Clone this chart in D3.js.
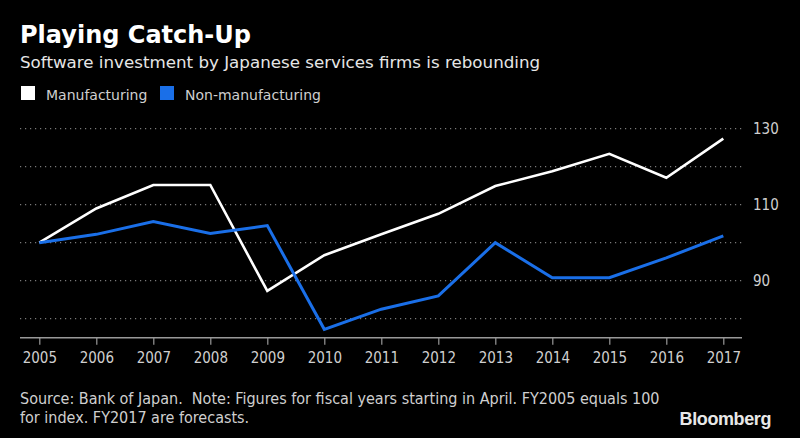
<!DOCTYPE html>
<html><head><meta charset="utf-8">
<script src="https://cdn.jsdelivr.net/npm/d3@7"></script>
<style>
html,body{margin:0;padding:0;background:#000;}
svg{display:block;}
</style></head>
<body>
<script>
const years = [2005,2006,2007,2008,2009,2010,2011,2012,2013,2014,2015,2016,2017];
const manufacturing = [100,109,115.2,115.2,87.3,96.7,102.2,107.6,114.9,118.8,123.4,117.1,127.4];
const nonManufacturing = [100,102.2,105.6,102.4,104.5,77.2,82.5,86,100,90.8,90.8,96,101.8];
const yTickValues = [90,110,130];
const gridValues = [80,90,100,110,120,130];

const W=800,H=438;
const svg=d3.select("body").append("svg").attr("width",W).attr("height",H);
svg.append("rect").attr("width",W).attr("height",H).attr("fill","#000");

const x=d3.scaleLinear().domain([2005,2017]).range([39.3,723.3]);
const y=d3.scaleLinear().domain([75,130]).range([337.7,128.7]);

const cond='"DejaVu Sans Condensed","DejaVu Sans",sans-serif';
const reg='"DejaVu Sans",sans-serif';

// title
svg.append("text").attr("x",20).attr("y",43).text("Playing Catch-Up")
  .attr("fill","#fff").attr("font-family",reg).attr("font-weight","bold").attr("font-size",24);
svg.append("text").attr("x",20).attr("y",68).text("Software investment by Japanese services firms is rebounding")
  .attr("fill","#e6e6e6").attr("font-family",reg).attr("font-size",16.7);

// legend
const legend=[{name:"Manufacturing",color:"#ffffff",x:21},{name:"Non-manufacturing",color:"#1a6fe8",x:160}];
legend.forEach(l=>{
  svg.append("rect").attr("x",l.x).attr("y",86).attr("width",14).attr("height",14).attr("fill",l.color);
  svg.append("text").attr("x",l.x+25).attr("y",100).text(l.name)
    .attr("fill","#cfcfcf").attr("font-family",reg).attr("font-size",14);
});

// grid
svg.append("g").selectAll("line").data(gridValues).join("line")
  .attr("x1",20).attr("x2",742).attr("y1",d=>y(d)).attr("y2",d=>y(d))
  .attr("stroke","#7a7a7a").attr("stroke-width",1.2).attr("stroke-dasharray","1.2,3.8");

// y labels
svg.append("g").selectAll("text").data(yTickValues).join("text")
  .attr("x",753).attr("y",d=>y(d)).attr("dy","0.36em").text(d=>d)
  .attr("fill","#cfcfcf").attr("font-family",cond).attr("font-size",15);

// x axis
const xAxis=d3.axisBottom(x).tickValues(years).tickFormat(d3.format("d")).tickSize(7).tickPadding(8);
const gx=svg.append("g").attr("transform",`translate(0,${y(75)})`).call(xAxis);
gx.select(".domain").remove();
gx.insert("line",":first-child").attr("x1",20).attr("x2",742).attr("stroke","#999").attr("stroke-width",1.5);
gx.selectAll(".tick line").attr("stroke","#999").attr("stroke-width",1.2);
gx.selectAll(".tick text").attr("fill","#cfcfcf").attr("font-family",cond).attr("font-size",15);

// lines
const line=d3.line().x((d,i)=>x(years[i])).y(d=>y(d));
svg.append("path").datum(manufacturing).attr("d",line).attr("fill","none")
  .attr("stroke","#ffffff").attr("stroke-width",2.6).attr("stroke-linejoin","miter");
svg.append("path").datum(nonManufacturing).attr("d",line).attr("fill","none")
  .attr("stroke","#1a6fe8").attr("stroke-width",3).attr("stroke-linejoin","miter");

// footer
svg.append("text").attr("x",20).attr("y",404).text("Source: Bank of Japan.  Note: Figures for fiscal years starting in April. FY2005 equals 100")
  .attr("fill","#cfcfcf").attr("font-family",cond).attr("font-size",16).style("white-space","pre");
svg.append("text").attr("x",20).attr("y",422.5).text("for index. FY2017 are forecasts.")
  .attr("fill","#cfcfcf").attr("font-family",cond).attr("font-size",16);
svg.append("text").attr("x",771).attr("y",425).attr("text-anchor","end").text("Bloomberg")
  .attr("fill","#e8e8e8").attr("font-family",'"Liberation Sans",Arial,sans-serif').attr("font-weight","bold")
  .attr("font-size",18).attr("letter-spacing",-0.4);
</script>
</body></html>
